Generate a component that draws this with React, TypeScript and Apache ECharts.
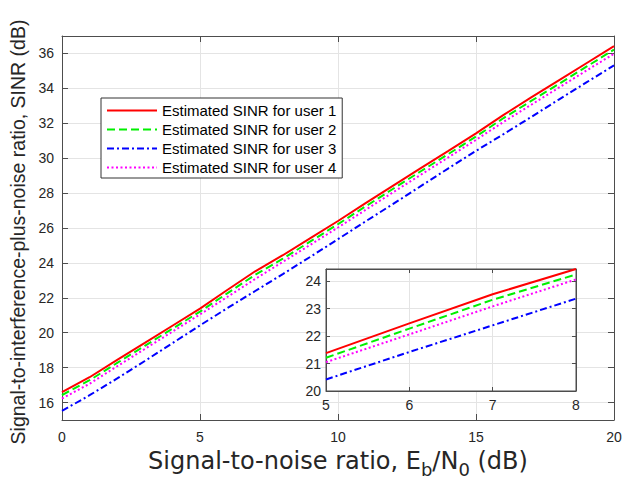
import React, { useEffect, useRef } from "react";
import * as echarts from "echarts";

const snr = [0, 1, 2, 3, 4, 5, 6, 7, 8, 9, 10, 11, 12, 13, 14, 15, 16, 17, 18, 19, 20];
const user1 = [16.6, 17.45, 18.45, 19.42, 20.4, 21.38, 22.46, 23.52, 24.44, 25.42, 26.4, 27.42, 28.43, 29.43, 30.42, 31.42, 32.48, 33.48, 34.46, 35.44, 36.42];
const user2 = [16.43, 17.28, 18.27, 19.25, 20.23, 21.21, 22.27, 23.32, 24.24, 25.23, 26.22, 27.24, 28.25, 29.25, 30.24, 31.24, 32.3, 33.28, 34.25, 35.24, 36.22];
const user3 = [15.52, 16.42, 17.38, 18.38, 19.4, 20.42, 21.42, 22.39, 23.36, 24.35, 25.36, 26.38, 27.38, 28.4, 29.42, 30.42, 31.38, 32.36, 33.36, 34.34, 35.32];
const user4 = [16.23, 17.08, 18.08, 19.07, 20.06, 21.05, 22.06, 23.08, 24.06, 25.04, 26.03, 27.04, 28.05, 29.05, 30.05, 31.05, 32.08, 33.06, 34.04, 35.02, 35.98];

const names = [
  "Estimated SINR for user 1",
  "Estimated SINR for user 2",
  "Estimated SINR for user 3",
  "Estimated SINR for user 4",
];
const colors = ["#ff0000", "#00f000", "#0000ff", "#ff00ff"];
const dashes: any[] = ["solid", [8, 4], [7, 3, 2, 3], [2, 2.5]];
const allUsers = [user1, user2, user3, user4];

const mainYTicks = [16, 18, 20, 22, 24, 26, 28, 30, 32, 34, 36];
const insetXRange = [5, 8];
const insetYRange = [20, 24.44];

const FONT = "'Liberation Sans', Arial, Helvetica, sans-serif";
const TXT = "#262626";
const GRIDC = "#e4e4e4";
const BOX = "#4d4d4d";

export default function App() {
  const ref = useRef<HTMLDivElement>(null);
  useEffect(() => {
    if (!ref.current) return;
    const chart = echarts.init(ref.current, undefined, { renderer: "svg" });

    const pairs = (ys: number[]) => snr.map((x, i) => [x, ys[i]]);
    const insetPairs = (ys: number[]) =>
      snr.map((x, i) => [x, ys[i]]).filter((p) => p[0] >= insetXRange[0] && p[0] <= insetXRange[1]);

    const mainSeries = allUsers.map((u, i) => ({
      name: names[i],
      type: "line",
      xAxisIndex: 0,
      yAxisIndex: 0,
      data: pairs(u),
      symbol: "none",
      showSymbol: false,
      z: 3,
      lineStyle: { color: colors[i], width: 2, type: dashes[i] },
      itemStyle: { color: colors[i] },
    }));
    const insetSeries = allUsers.map((u, i) => ({
      name: names[i],
      type: "line",
      xAxisIndex: 2,
      yAxisIndex: 2,
      data: insetPairs(u),
      symbol: "none",
      showSymbol: false,
      z: 14,
      lineStyle: { color: colors[i], width: 2, type: dashes[i] },
      itemStyle: { color: colors[i] },
    }));

    const tickLabel = { color: TXT, fontFamily: FONT, fontSize: 14 };

    chart.setOption({
      animation: false,
      backgroundColor: "#ffffff",
      legend: {
        data: names,
        orient: "vertical",
        left: 101,
        top: 98,
        itemWidth: 50,
        itemHeight: 14,
        itemGap: 4,
        padding: [5, 6, 3, 5],
        backgroundColor: "#ffffff",
        borderColor: "#333333",
        borderWidth: 1,
        selectedMode: false,
        itemStyle: { opacity: 0 },
        textStyle: { color: "#000000", fontFamily: FONT, fontSize: 15 },
        z: 20,
      },
      grid: [
        { left: 62, top: 36, right: 11, bottom: 63, show: false, containLabel: false, outerBoundsMode: "none" },
        {
          left: 326,
          top: 269,
          width: 250,
          height: 122,
          show: true,
          backgroundColor: "#ffffff",
          borderColor: BOX,
          borderWidth: 1,
          z: 10,
          containLabel: false,
          outerBoundsMode: "none",
        },
      ],
      xAxis: [
        {
          type: "value",
          gridIndex: 0,
          min: 0,
          max: 20,
          interval: 5,
          position: "bottom",
          name: "{a|Signal-to-noise ratio, E}{s|b}{a|/N}{s|0}{a| (dB)}",
          nameLocation: "middle",
          nameGap: 30,
          nameTextStyle: {
            rich: {
              a: {
                fontFamily: "'DejaVu Sans', sans-serif",
                fontSize: 24,
                color: TXT,
                lineHeight: 26,
                padding: [0, 0, 6, 0],
                verticalAlign: "bottom",
              },
              s: {
                fontFamily: "'DejaVu Sans', sans-serif",
                fontSize: 18,
                color: TXT,
                lineHeight: 20,
                verticalAlign: "bottom",
              },
            },
          },
          axisLine: { show: true, onZero: false, lineStyle: { color: BOX, width: 1 } },
          axisTick: { show: true, inside: true, length: 6, lineStyle: { color: BOX } },
          axisLabel: { ...tickLabel, margin: 10 },
          splitLine: { show: true, lineStyle: { color: GRIDC, width: 1 } },
          z: 1,
        },
        {
          type: "value",
          gridIndex: 0,
          min: 0,
          max: 20,
          interval: 5,
          position: "top",
          axisLine: { show: true, onZero: false, lineStyle: { color: BOX, width: 1 } },
          axisTick: { show: true, inside: true, length: 6, lineStyle: { color: BOX } },
          axisLabel: { show: false },
          splitLine: { show: false },
          z: 1,
        },
        {
          type: "value",
          gridIndex: 1,
          min: insetXRange[0],
          max: insetXRange[1],
          interval: 1,
          position: "bottom",
          axisLine: { show: true, onZero: false, lineStyle: { color: BOX, width: 1 } },
          axisTick: { show: true, inside: true, length: 4, lineStyle: { color: BOX } },
          axisLabel: { ...tickLabel, margin: 7 },
          splitLine: { show: true, lineStyle: { color: GRIDC, width: 1 } },
          z: 12,
        },
        {
          type: "value",
          gridIndex: 1,
          min: insetXRange[0],
          max: insetXRange[1],
          interval: 1,
          position: "top",
          axisLine: { show: true, onZero: false, lineStyle: { color: BOX, width: 1 } },
          axisTick: { show: true, inside: true, length: 4, lineStyle: { color: BOX } },
          axisLabel: { show: false },
          splitLine: { show: false },
          z: 12,
        },
      ],
      yAxis: [
        {
          type: "value",
          gridIndex: 0,
          min: 15,
          max: 37,
          position: "left",
          name: "Signal-to-interference-plus-noise ratio, SINR (dB)",
          nameLocation: "middle",
          nameGap: 28,
          nameTextStyle: { fontFamily: FONT, fontSize: 19.5, color: TXT, padding: [0, 8, 0, 0] },
          axisLine: { show: true, onZero: false, lineStyle: { color: BOX, width: 1 } },
          axisTick: { show: true, inside: true, length: 6, customValues: mainYTicks, lineStyle: { color: BOX } },
          axisLabel: { ...tickLabel, margin: 8, customValues: mainYTicks },
          splitLine: { show: true, lineStyle: { color: GRIDC, width: 1 } },
          z: 1,
        },
        {
          type: "value",
          gridIndex: 0,
          min: 15,
          max: 37,
          position: "right",
          axisLine: { show: true, onZero: false, lineStyle: { color: BOX, width: 1 } },
          axisTick: { show: true, inside: true, length: 6, customValues: mainYTicks, lineStyle: { color: BOX } },
          axisLabel: { show: false, customValues: mainYTicks },
          splitLine: { show: false },
          z: 1,
        },
        {
          type: "value",
          gridIndex: 1,
          min: insetYRange[0],
          max: insetYRange[1],
          interval: 1,
          position: "left",
          axisLine: { show: true, onZero: false, lineStyle: { color: BOX, width: 1 } },
          axisTick: { show: true, inside: true, length: 4, lineStyle: { color: BOX } },
          axisLabel: {
            ...tickLabel,
            margin: 5,
            formatter: (v: number) => (Number.isInteger(v) ? String(v) : ""),
          },
          splitLine: { show: true, lineStyle: { color: GRIDC, width: 1 } },
          z: 12,
        },
        {
          type: "value",
          gridIndex: 1,
          min: insetYRange[0],
          max: insetYRange[1],
          interval: 1,
          position: "right",
          axisLine: { show: true, onZero: false, lineStyle: { color: BOX, width: 1 } },
          axisTick: { show: true, inside: true, length: 4, lineStyle: { color: BOX } },
          axisLabel: { show: false },
          splitLine: { show: false },
          z: 12,
        },
      ],
      series: [...mainSeries, ...insetSeries],
    });
    return () => chart.dispose();
  }, []);
  return (
    <div
      ref={ref}
      style={{ position: "fixed", left: 0, top: 0, width: 625, height: 483, background: "#fff" }}
    />
  );
}
